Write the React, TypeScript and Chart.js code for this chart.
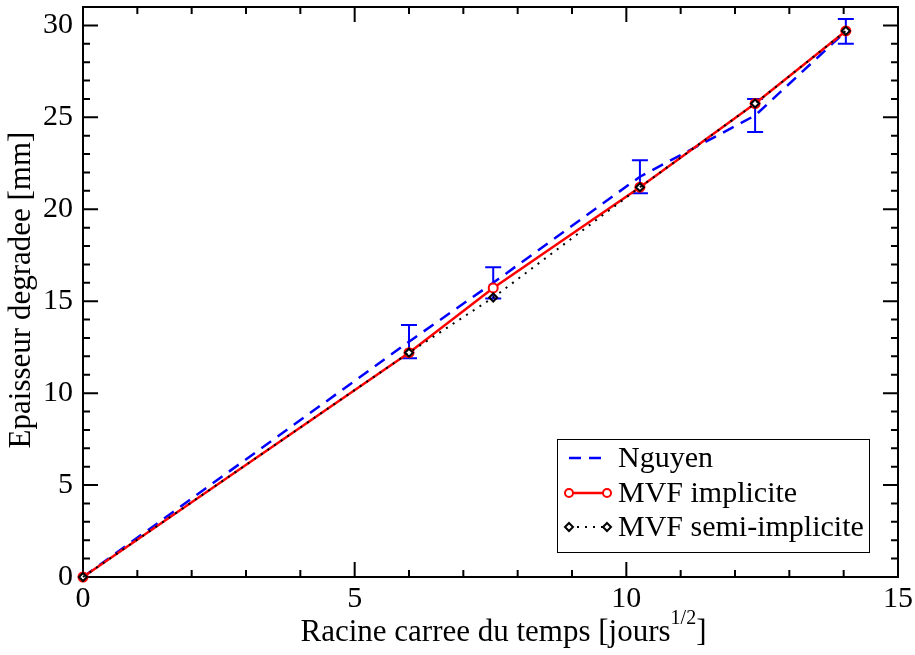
import React, { useEffect, useRef } from 'react';
import { Chart, registerables } from 'chart.js';

Chart.register(...registerables);

// ---- data ----
const xValues = [0, 6, 7.55, 10.25, 12.37, 14.04];
const nguyen = [0, 12.8, 16.0, 21.77, 25.1, 29.68];
const nguyenLow = [0, 11.9, 15.15, 20.87, 24.2, 29.0];
const nguyenHigh = [0, 13.7, 16.85, 22.67, 26.0, 30.35];
const mvfImplicite = [0, 12.2, 15.72, 21.2, 25.75, 29.7];
const mvfSemiImplicite = [0, 12.2, 15.2, 21.2, 25.75, 29.7];
const xMajorTicks = [0, 5, 10, 15];
const yMajorTicks = [0, 5, 10, 15, 20, 25, 30];
const seriesNames = ['Nguyen', 'MVF implicite', 'MVF semi-implicite'];
const xTitleMain = 'Racine carree du temps [jours';
const xTitleSup = '1/2';
const xTitleEnd = ']';
const yTitle = 'Epaisseur degradee [mm]';

const FONT = '"Liberation Serif", "Times New Roman", serif';
const BLUE = '#0000ff';
const RED = '#ff0000';

const toPoints = (ys: number[]) => xValues.map((x, i) => ({ x, y: ys[i] }));

const framePlugin = {
  id: 'frameTicks',
  beforeDatasetsDraw(chart: any) {
    const { ctx, chartArea, scales } = chart;
    const { left, right, top, bottom } = chartArea;
    const xs = scales.x;
    const ys = scales.y;
    ctx.save();
    // error bars (under the lines)
    ctx.strokeStyle = BLUE;
    ctx.lineWidth = 2;
    xValues.forEach((xv, i) => {
      if (nguyenHigh[i] === nguyenLow[i]) return;
      const px = xs.getPixelForValue(xv);
      const pl = ys.getPixelForValue(nguyenLow[i]);
      const ph = ys.getPixelForValue(nguyenHigh[i]);
      ctx.beginPath();
      ctx.moveTo(px, pl);
      ctx.lineTo(px, ph);
      ctx.moveTo(px - 8, pl);
      ctx.lineTo(px + 8, pl);
      ctx.moveTo(px - 8, ph);
      ctx.lineTo(px + 8, ph);
      ctx.stroke();
    });
    // frame
    ctx.strokeStyle = '#000';
    ctx.lineWidth = 2;
    ctx.strokeRect(left, top, right - left, bottom - top);
    ctx.beginPath();
    for (let v = xs.min; v <= xs.max + 1e-9; v += 1) {
      const px = xs.getPixelForValue(v);
      const len = Math.abs(v % 5) < 1e-9 ? 15 : 7;
      ctx.moveTo(px, bottom);
      ctx.lineTo(px, bottom - len);
      ctx.moveTo(px, top);
      ctx.lineTo(px, top + len);
    }
    for (let v = ys.min; v <= ys.max + 1e-9; v += 1) {
      const py = ys.getPixelForValue(v);
      const len = Math.abs(v % 5) < 1e-9 ? 15 : 7;
      ctx.moveTo(left, py);
      ctx.lineTo(left + len, py);
      ctx.moveTo(right, py);
      ctx.lineTo(right - len, py);
    }
    ctx.stroke();
    ctx.restore();
  },
  afterDraw(chart: any) {
    const { ctx, chartArea } = chart;
    ctx.save();
    ctx.fillStyle = '#000';
    // x title with superscript
    const mainFont = `31px ${FONT}`;
    const supFont = `20px ${FONT}`;
    ctx.font = mainFont;
    const w1 = ctx.measureText(xTitleMain).width;
    const w3 = ctx.measureText(xTitleEnd).width;
    ctx.font = supFont;
    const w2 = ctx.measureText(xTitleSup).width;
    const total = w1 + w2 + w3;
    const cx = (chartArea.left + chartArea.right) / 2 + 13;
    let sx = cx - total / 2;
    const baseY = 641;
    ctx.textAlign = 'left';
    ctx.textBaseline = 'alphabetic';
    ctx.font = mainFont;
    ctx.fillText(xTitleMain, sx, baseY);
    sx += w1;
    ctx.font = supFont;
    ctx.fillText(xTitleSup, sx, baseY - 17);
    sx += w2;
    ctx.font = mainFont;
    ctx.fillText(xTitleEnd, sx, baseY);

    // y title
    ctx.save();
    ctx.translate(22, 290);
    ctx.rotate(-Math.PI / 2);
    ctx.textAlign = 'center';
    ctx.textBaseline = 'middle';
    ctx.font = mainFont;
    ctx.fillText(yTitle, 0, 0);
    ctx.restore();

    // legend
    const bx = 557, by = 439, bw = 312, bh = 113;
    ctx.fillStyle = '#fff';
    ctx.fillRect(bx, by, bw, bh);
    ctx.strokeStyle = '#000';
    ctx.lineWidth = 1;
    ctx.strokeRect(bx + 0.5, by + 0.5, bw, bh);
    const rows = [458, 493, 527];
    const x0 = 569, x1 = 607;
    // Nguyen
    ctx.strokeStyle = BLUE;
    ctx.lineWidth = 2.5;
    ctx.setLineDash([12, 8]);
    ctx.beginPath();
    ctx.moveTo(x0, rows[0]);
    ctx.lineTo(x1, rows[0]);
    ctx.stroke();
    // implicite
    ctx.setLineDash([]);
    ctx.strokeStyle = RED;
    ctx.beginPath();
    ctx.moveTo(x0, rows[1]);
    ctx.lineTo(x1, rows[1]);
    ctx.stroke();
    ctx.lineWidth = 2;
    [x0, x1].forEach((px) => {
      ctx.beginPath();
      ctx.arc(px, rows[1], 4, 0, Math.PI * 2);
      ctx.fillStyle = '#fff';
      ctx.fill();
      ctx.stroke();
    });
    // semi-implicite
    ctx.strokeStyle = '#000';
    ctx.lineWidth = 2;
    ctx.setLineDash([2, 6]);
    ctx.beginPath();
    ctx.moveTo(x0, rows[2]);
    ctx.lineTo(x1, rows[2]);
    ctx.stroke();
    ctx.setLineDash([]);
    [x0, x1].forEach((px) => {
      ctx.beginPath();
      ctx.moveTo(px, rows[2] - 4);
      ctx.lineTo(px + 4, rows[2]);
      ctx.lineTo(px, rows[2] + 4);
      ctx.lineTo(px - 4, rows[2]);
      ctx.closePath();
      ctx.fillStyle = '#fff';
      ctx.fill();
      ctx.stroke();
    });
    ctx.fillStyle = '#000';
    ctx.font = `30px ${FONT}`;
    ctx.textAlign = 'left';
    ctx.textBaseline = 'middle';
    seriesNames.forEach((n, i) => ctx.fillText(n, 618, rows[i] + 1));
    ctx.restore();
  },
};

export default function App() {
  const ref = useRef<HTMLCanvasElement | null>(null);
  useEffect(() => {
    if (!ref.current) return;
    const chart = new Chart(ref.current, {
      type: 'scatter',
      data: {
        datasets: [
          {
            label: seriesNames[0],
            data: toPoints(nguyen),
            showLine: true,
            borderColor: BLUE,
            borderWidth: 2.5,
            borderDash: [12, 8],
            pointRadius: 0,
            order: 3,
            clip: false,
          } as any,
          {
            label: seriesNames[1],
            data: toPoints(mvfImplicite),
            showLine: true,
            borderColor: RED,
            borderWidth: 2.5,
            pointRadius: 4.5,
            pointBorderWidth: 2,
            pointBorderColor: RED,
            pointBackgroundColor: '#fff',
            pointStyle: 'circle',
            order: 2,
            clip: false,
          } as any,
          {
            label: seriesNames[2],
            data: toPoints(mvfSemiImplicite),
            showLine: true,
            borderColor: '#000',
            borderWidth: 2,
            borderDash: [2, 6],
            pointRadius: 4,
            pointBorderWidth: 2,
            pointBorderColor: '#000',
            pointBackgroundColor: 'rgba(255,255,255,0)',
            pointStyle: 'rectRot',
            order: 1,
            clip: false,
          } as any,
        ],
      },
      options: {
        animation: false,
        responsive: false,
        events: [],
        layout: { padding: { left: 0, right: 17, top: 7, bottom: 0 } },
        plugins: {
          legend: { display: false },
          tooltip: { enabled: false },
        },
        scales: {
          x: {
            type: 'linear',
            min: 0,
            max: 15,
            grid: { display: false, drawTicks: false },
            border: { display: false },
            afterBuildTicks: (s: any) => {
              s.ticks = xMajorTicks.map((v) => ({ value: v }));
            },
            afterFit: (s: any) => {
              s.height = 78;
              s.paddingLeft = 0;
              s.paddingRight = 0;
            },
            ticks: {
              padding: 4,
              color: '#000',
              font: { family: FONT, size: 30 },
              maxRotation: 0,
              callback: (v: any) => String(v),
            },
          },
          y: {
            type: 'linear',
            min: 0,
            max: 31,
            grid: { display: false, drawTicks: false },
            border: { display: false },
            afterBuildTicks: (s: any) => {
              s.ticks = yMajorTicks.map((v) => ({ value: v }));
            },
            afterFit: (s: any) => {
              s.width = 83;
              s.paddingTop = 0;
              s.paddingBottom = 0;
            },
            ticks: {
              padding: 10,
              color: '#000',
              font: { family: FONT, size: 30 },
              callback: (v: any) => String(v),
            },
          },
        },
      },
      plugins: [framePlugin],
    });
    return () => chart.destroy();
  }, []);
  return (
    <div style={{ position: 'absolute', left: 0, top: 0, width: 915, height: 655, background: '#fff' }}>
      <canvas ref={ref} width={915} height={655} style={{ display: 'block' }} />
    </div>
  );
}
